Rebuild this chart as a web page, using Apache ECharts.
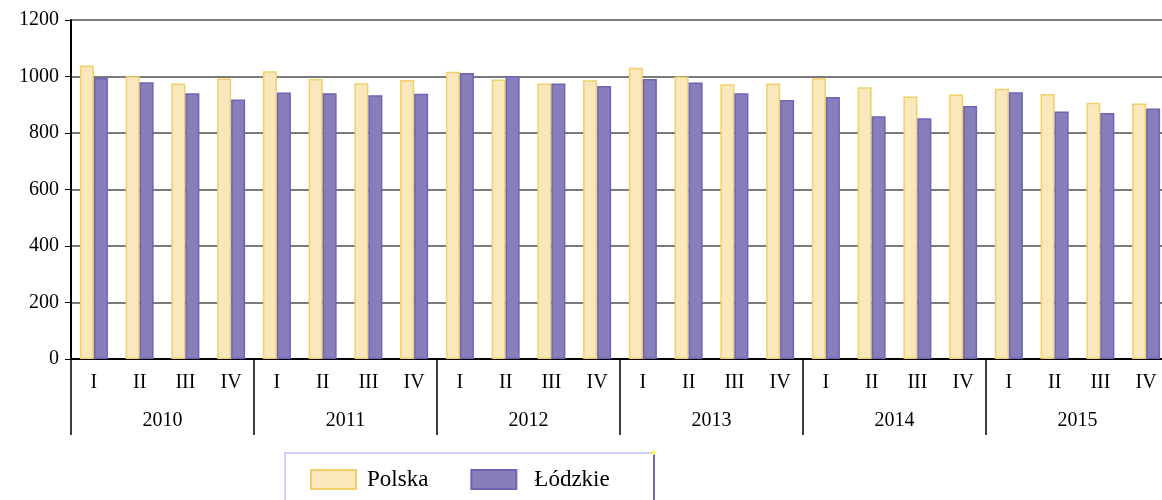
<!DOCTYPE html>
<html>
<head>
<meta charset="utf-8">
<script src="https://cdn.jsdelivr.net/npm/echarts@6/dist/echarts.min.js"></script>
<style>
  html, body { margin: 0; padding: 0; background: #fff; }
  #chart { width: 1162px; height: 500px; }
</style>
</head>
<body>
<div id="chart"></div>
<script>
// dane kwartalne
var years = ['2010', '2011', '2012', '2013', '2014', '2015'];
var quarterNames = ['I', 'II', 'III', 'IV'];
var polska = [1039, 1001, 975, 993, 1019, 991, 976, 988, 1017, 989, 975, 987,
              1031, 1000, 973, 975, 994, 962, 929, 936, 957, 938, 907, 904];
var lodzkie = [995, 980, 941, 919, 943, 941, 934, 939, 1012, 1002, 975, 966,
               991, 979, 941, 917, 927, 859, 852, 896, 944, 876, 871, 887];
var yTicks = { min: 0, max: 1200, step: 200 };

// kategorie osi x: kwartal w kazdym roku
var quarters = [];
for (var i = 0; i < years.length; i++) {
    for (var q = 0; q < quarterNames.length; q++) {
        quarters.push(quarterNames[q]);
    }
}

var font = 'Liberation Serif';
var chart = echarts.init(document.getElementById('chart'));

var option = {
    animation: false,
    backgroundColor: '#fff',
    grid: { left: 71, top: 20, width: 1098, bottom: 141, outerBoundsMode: 'none' },
    legend: {
        left: 310,
        top: 468,
        padding: 0,
        itemWidth: 45,
        itemHeight: 19,
        itemGap: 42,
        icon: 'rect',
        formatter: function (name) {
            return name === 'Polska' ? '{a|' + name + '}' : '{b|' + name + '}';
        },
        textStyle: {
            fontFamily: font, fontSize: 23, color: '#000',
            rich: {
                a: { fontFamily: font, fontSize: 23, color: '#000', padding: [0, 0, 0, 6] },
                b: { fontFamily: font, fontSize: 23, color: '#000', padding: [0, 0, 0, 13] }
            }
        },
        data: ['Polska', 'Łódzkie']
    },
    xAxis: [{
        type: 'category',
        data: quarters,
        position: 'bottom',
        axisLine: { lineStyle: { color: '#000', width: 2 } },
        axisTick: { show: false },
        axisLabel: { fontFamily: font, fontSize: 20, color: '#000', margin: 14, interval: 0 }
    }, {
        type: 'category',
        data: years,
        position: 'bottom',
        boundaryGap: true,
        axisLine: { show: false },
        axisTick: { show: true, length: 76, lineStyle: { color: '#000', width: 1.5 } },
        axisLabel: { fontFamily: font, fontSize: 20, color: '#000', margin: 52, interval: 0 }
    }],
    yAxis: {
        type: 'value',
        min: yTicks.min,
        max: yTicks.max,
        interval: yTicks.step,
        axisLine: { show: true, lineStyle: { color: '#000', width: 2 } },
        axisTick: { show: true, length: 6, lineStyle: { color: '#000' } },
        axisLabel: {
            fontFamily: font, fontSize: 20, color: '#000', margin: 12,
            formatter: function (v) { return String(v); }
        },
        splitLine: { lineStyle: { color: '#7a7a7a', width: 2 } }
    },
    series: [{
        name: 'Polska',
        type: 'bar',
        data: polska,
        barWidth: 14,
        barGap: '0%',
        itemStyle: { color: '#fae8bd', borderColor: '#f2cf68', borderWidth: 1.5 }
    }, {
        name: 'Łódzkie',
        type: 'bar',
        data: lodzkie,
        barWidth: 14,
        itemStyle: { color: '#867fbc', borderColor: '#6e64b4', borderWidth: 1.5 }
    }],
    graphic: [{
        type: 'rect',
        shape: { x: 285, y: 453, width: 369, height: 60 },
        style: { fill: null, stroke: '#d0d0f8', lineWidth: 2 },
        silent: true
    }, {
        type: 'line',
        shape: { x1: 654, y1: 455, x2: 654, y2: 500 },
        style: { stroke: '#7068b0', lineWidth: 2 },
        silent: true
    }, {
        type: 'rect',
        shape: { x: 652, y: 451, width: 3, height: 3 },
        style: { fill: '#ffff00' },
        silent: true
    }]
};

chart.setOption(option);
</script>
</body>
</html>
